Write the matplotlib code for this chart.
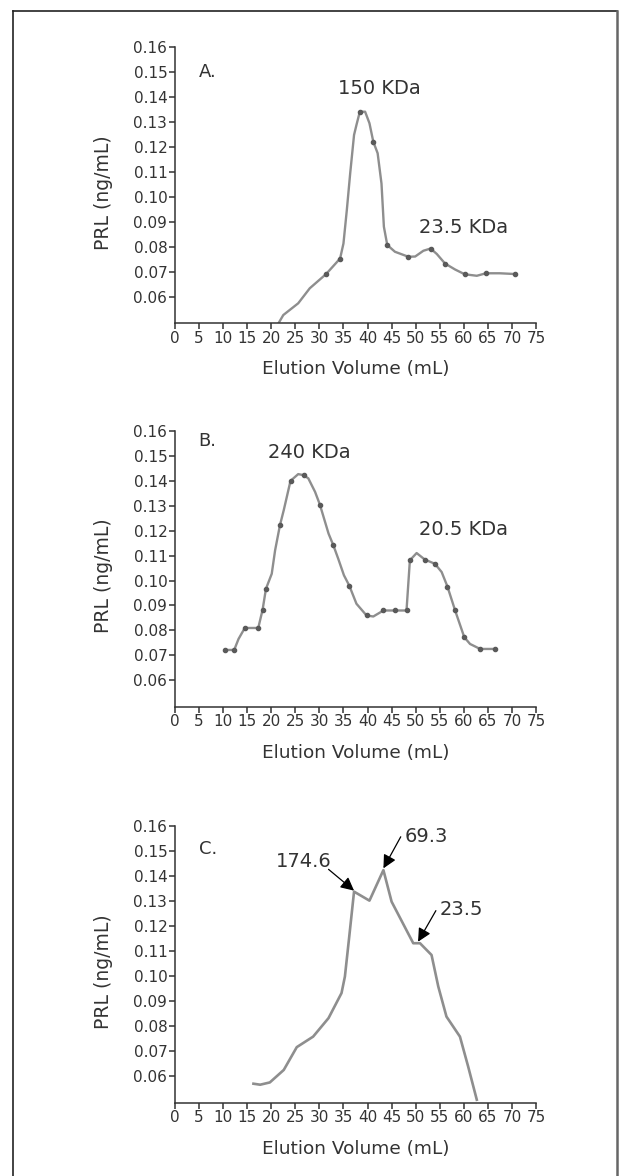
import matplotlib
matplotlib.use("Agg")
import matplotlib.pyplot as plt
from matplotlib.lines import Line2D

plt.rcParams['font.family'] = ['DejaVu Sans']

# --- Datos ---
vol_a = [21.5, 22.5, 25.6, 28.0, 31.4, 34.3, 35.0, 35.7, 36.4, 37.2, 37.7, 38.4, 39.5, 40.4,
         41.2, 42.1, 42.9, 43.4, 44.1, 45.7, 48.5, 49.9, 51.6, 53.1, 54.4, 56.1, 58.2, 60.2,
         62.7, 64.6, 67.5, 70.6]
prl_a = [0.0494, 0.0527, 0.0574, 0.0634, 0.0691, 0.0753, 0.0813, 0.0947, 0.1094, 0.1247,
         0.1287, 0.1340, 0.1340, 0.1294, 0.1220, 0.1174, 0.1053, 0.0880, 0.0807, 0.0780,
         0.0760, 0.0761, 0.0784, 0.0793, 0.0771, 0.0733, 0.0709, 0.0690, 0.0684, 0.0694,
         0.0694, 0.0691]
marcas_a = [4, 5, 11, 14, 18, 20, 23, 25, 27, 29, 31]

vol_b = [10.4, 12.3, 13.2, 14.5, 17.3, 18.2, 18.9, 20.1, 20.8, 21.8, 22.6, 24.0, 25.6, 26.7,
         27.7, 29.1, 30.1, 31.9, 32.9, 33.9, 35.1, 36.2, 37.7, 39.8, 41.2, 43.3, 45.7, 48.1,
         48.8, 50.2, 51.9, 54.0, 55.4, 56.6, 58.2, 60.1, 61.3, 63.4, 66.5]
prl_b = [0.0722, 0.0722, 0.0766, 0.0810, 0.0810, 0.0883, 0.0967, 0.1027, 0.1121, 0.1221,
         0.1282, 0.1399, 0.1426, 0.1422, 0.1409, 0.1355, 0.1304, 0.1188, 0.1141, 0.1088,
         0.1021, 0.0980, 0.0907, 0.0860, 0.0856, 0.0880, 0.0880, 0.0880, 0.1081, 0.1110,
         0.1084, 0.1067, 0.1034, 0.0976, 0.0880, 0.0773, 0.0746, 0.0726, 0.0726]
marcas_b = [0, 1, 3, 4, 5, 6, 9, 11, 13, 16, 18, 21, 23, 25, 26, 27, 28, 30, 31, 33, 34,
            35, 37, 38]

vol_c = [16.3, 17.7, 19.7, 22.6, 25.3, 28.7, 31.9, 34.6, 35.3, 36.2, 37.2, 40.4, 43.3, 45.0,
         49.5, 50.9, 53.3, 54.7, 56.4, 59.2, 60.9, 62.7]
prl_c = [0.0571, 0.0567, 0.0576, 0.0626, 0.0717, 0.0759, 0.0833, 0.0933, 0.0999, 0.1158,
         0.1338, 0.1302, 0.1424, 0.1298, 0.1132, 0.1132, 0.1085, 0.0959, 0.0839, 0.0759,
         0.0640, 0.0507]

# etiquetas de picos (texto, x, y)
picos_a = [("150 KDa", 42.4, 0.1434), ("23.5 KDa", 59.9, 0.0878)]
picos_b = [("240 KDa", 28.0, 0.1512), ("20.5 KDa", 59.9, 0.1204)]
# panel C: texto (texto, x, y) y flechas (x cola, y cola, x punta, y punta)
textos_c = [("174.6", 26.8, 0.1460), ("69.3", 52.3, 0.1557), ("23.5", 59.5, 0.1268)]
flechas_c = [(31.9, 0.1427, 37.2, 0.1342),
             (46.9, 0.1557, 43.3, 0.1431),
             (54.2, 0.1262, 50.5, 0.1138)]

xticks = list(range(0, 80, 5))
yticks = [0.06, 0.07, 0.08, 0.09, 0.10, 0.11, 0.12, 0.13, 0.14, 0.15, 0.16]

gris_texto = '#333333'
gris_linea = '#8e8e8e'

fig = plt.figure(figsize=(6.19, 11.76), dpi=100)

# marco exterior (sin borde inferior)
for xs, ys, lw, c in [([13.3 / 619, 13.3 / 619], [0, 1 - 10.7 / 1176], 1.2, '#222222'),
                      ([13.3 / 619, 616.7 / 619], [1 - 10.7 / 1176, 1 - 10.7 / 1176], 1.2, '#222222'),
                      ([616.7 / 619, 616.7 / 619], [0, 1 - 10.7 / 1176], 1.8, '#666666')]:
    fig.add_artist(Line2D(xs, ys, lw=lw, color=c, transform=fig.transFigure))

posiciones = [[0.2827, 0.7253, 0.5832, 0.2350],
              [0.2827, 0.3991, 0.5832, 0.2347],
              [0.2827, 0.0623, 0.5832, 0.2353]]


def preparar(ax, letra, y_letra):
    ax.set_xlim(0, 75)
    ax.set_ylim(0.0495, 0.16)
    ax.set_xticks(xticks)
    ax.set_yticks(yticks)
    ax.set_yticklabels([f"{v:.2f}" for v in yticks])
    ax.spines['top'].set_visible(False)
    ax.spines['right'].set_visible(False)
    for s in ['left', 'bottom']:
        ax.spines[s].set_color(gris_texto)
        ax.spines[s].set_linewidth(1.1)
    ax.tick_params(axis='both', labelsize=11, colors=gris_texto, length=4, width=1.1, pad=1.5)
    ax.set_xlabel("Elution Volume (mL)", fontsize=13.3, color=gris_texto)
    ax.set_ylabel("PRL (ng/mL)", fontsize=13.5, color=gris_texto)
    ax.xaxis.set_label_coords(0.5, -0.135)
    ax.yaxis.set_label_coords(-0.172, 0.473)
    ax.text(6.8, y_letra, letra, fontsize=13, color=gris_texto, ha='center', va='center')


ax1 = fig.add_axes(posiciones[0])
preparar(ax1, "A.", 0.150)
ax1.plot(vol_a, prl_a, color=gris_linea, lw=1.7, marker='o', ms=3,
         mfc='#5a5a5a', mec='#5a5a5a', markevery=marcas_a)
for txt, x, y in picos_a:
    ax1.text(x, y, txt, fontsize=14, color=gris_texto, ha='center', va='center')

ax2 = fig.add_axes(posiciones[1])
preparar(ax2, "B.", 0.156)
ax2.plot(vol_b, prl_b, color=gris_linea, lw=1.7, marker='o', ms=3,
         mfc='#5a5a5a', mec='#5a5a5a', markevery=marcas_b)
for txt, x, y in picos_b:
    ax2.text(x, y, txt, fontsize=14, color=gris_texto, ha='center', va='center')

ax3 = fig.add_axes(posiciones[2])
preparar(ax3, "C.", 0.1507)
ax3.plot(vol_c, prl_c, color=gris_linea, lw=1.9)
for txt, x, y in textos_c:
    ax3.text(x, y, txt, fontsize=14, color=gris_texto, ha='center', va='center')
for xt, yt, xp, yp in flechas_c:
    ax3.annotate('', xy=(xp, yp), xytext=(xt, yt),
                 arrowprops=dict(arrowstyle='-|>', color='black', lw=0.9,
                                 mutation_scale=20, shrinkA=0, shrinkB=0))

plt.savefig("out.png", dpi=100)
